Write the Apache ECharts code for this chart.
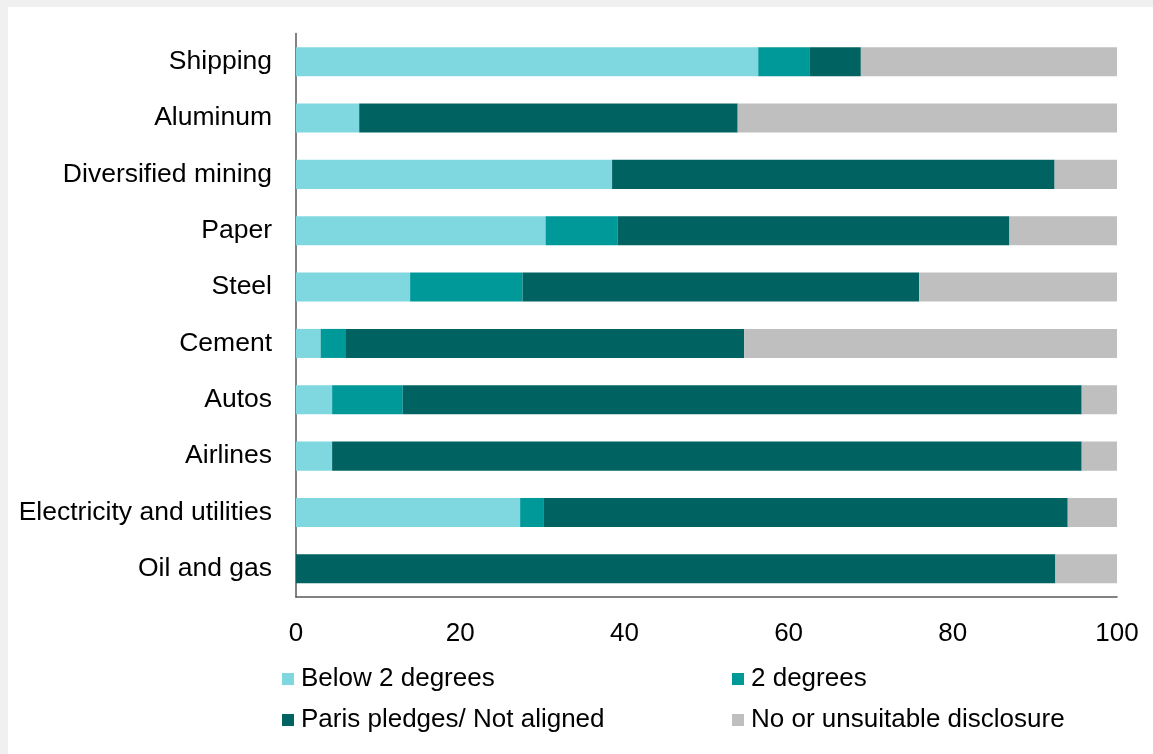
<!DOCTYPE html>
<html>
<head>
<meta charset="utf-8">
<script src="https://cdn.jsdelivr.net/npm/echarts@6/dist/echarts.min.js"></script>
<style>
  html, body { margin: 0; padding: 0; background: #f0f0f0; }
  #main { position: absolute; left: 8px; top: 7px; width: 1145px; height: 747px; background: #ffffff; }
</style>
</head>
<body>
<div id="main"></div>
<script>
  // sectors, top to bottom
  var sectors = ['Shipping', 'Aluminum', 'Diversified mining', 'Paper', 'Steel', 'Cement', 'Autos', 'Airlines', 'Electricity and utilities', 'Oil and gas']

  // share of companies (%)
  var below2 = [56.3, 7.7, 38.5, 30.4, 13.9, 3.0, 4.4, 4.4, 27.3, 0]
  var deg2 = [6.3, 0, 0, 8.8, 13.7, 3.0, 8.6, 0, 2.9, 0]
  var paris = [6.2, 46.1, 53.9, 47.7, 48.3, 48.6, 82.7, 91.3, 63.8, 92.5]
  var noDisclosure = [31.2, 46.2, 7.6, 13.1, 24.1, 45.4, 4.3, 4.3, 6.0, 7.5]

  var xTicks = [0, 20, 40, 60, 80, 100]

  var font = '"Liberation Sans", Arial, sans-serif'
  var chart = echarts.init(document.getElementById('main'))

  function bar (name, data, color) {
    return {
      name: name,
      type: 'bar',
      stack: 'total',
      barCategoryGap: '48.5%',
      itemStyle: { color: color },
      emphasis: { disabled: true },
      data: data
    }
  }

  function legend (names, left) {
    return {
      data: names,
      orient: 'vertical',
      left: left,
      top: 654,
      itemWidth: 12,
      itemHeight: 12,
      itemGap: 15,
      icon: 'rect',
      textStyle: { fontSize: 26, color: '#000', fontFamily: font, padding: [0, 0, 0, 2] }
    }
  }

  chart.setOption({
    animation: false,
    textStyle: { fontFamily: font },
    grid: { left: 288, right: 36, top: 26.5, bottom: 157 },
    legend: [
      legend(['Below 2 degrees', 'Paris pledges/ Not aligned'], 269),
      legend(['2 degrees', 'No or unsuitable disclosure'], 719)
    ],
    xAxis: {
      type: 'value',
      min: 0,
      max: 100,
      interval: 20,
      axisLine: { show: true, lineStyle: { color: '#595959', width: 1.5 } },
      axisTick: { show: false },
      splitLine: { show: false },
      axisLabel: {
        fontSize: 26,
        color: '#000',
        fontFamily: font,
        margin: 24,
        formatter: function (v) { return xTicks.indexOf(v) >= 0 ? String(v) : '' }
      }
    },
    yAxis: {
      type: 'category',
      inverse: true,
      data: sectors,
      axisLine: { show: true, lineStyle: { color: '#595959', width: 1.5 } },
      axisTick: { show: false },
      axisLabel: { fontSize: 26.5, color: '#000', fontFamily: font, margin: 24 }
    },
    series: [
      bar('Below 2 degrees', below2, '#7fd8e0'),
      bar('2 degrees', deg2, '#009999'),
      bar('Paris pledges/ Not aligned', paris, '#006361'),
      bar('No or unsuitable disclosure', noDisclosure, '#bfbfbf')
    ]
  })
</script>
</body>
</html>
